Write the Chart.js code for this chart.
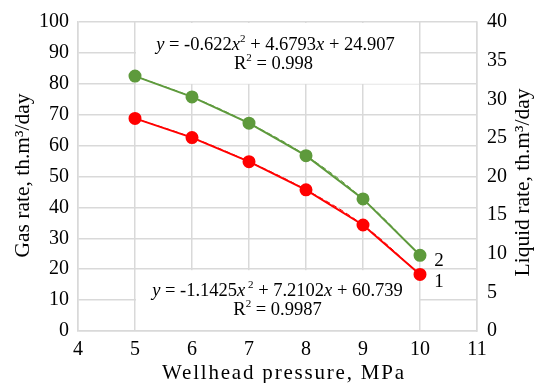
<!DOCTYPE html>
<html>
<head>
<meta charset="utf-8">
<script src="https://cdn.jsdelivr.net/npm/chart.js@4/dist/chart.umd.min.js"></script>
<style>
  html, body { margin: 0; padding: 0; background: #fff; }
  #wrap { width: 536px; height: 383px; position: relative; }
</style>
</head>
<body>
<div id="wrap"><canvas id="chart"></canvas></div>
<script>
// Data
const pressure = [5, 6, 7, 8, 9, 10];
const gasRate = [68.8, 62.6, 54.8, 45.7, 34.3, 18.3];
const liquidRate = [33.0, 30.3, 26.9, 22.7, 17.1, 9.8];
const xTicks = [4, 5, 6, 7, 8, 9, 10, 11];
const gasTicks = [0, 10, 20, 30, 40, 50, 60, 70, 80, 90, 100];
const liquidTicks = [0, 5, 10, 15, 20, 25, 30, 35, 40];

const RED = '#ff0000';
const GREEN = '#5e9a3c';
const GRID = '#d9d9d9';
const FONT = 'Liberation Serif, DejaVu Serif, serif';

// Draw text made of plain / italic / superscript parts, centred on cx
function drawRich(ctx, parts, cx, cy, size) {
    const fontFor = p => `${p.i ? 'italic ' : ''}${p.sup ? Math.round(size * 0.6) : size}px ${FONT}`;
    let total = 0;
    parts.forEach(p => { ctx.font = fontFor(p); total += ctx.measureText(p.t).width; });
    let x = cx - total / 2;
    ctx.textBaseline = 'middle';
    ctx.textAlign = 'left';
    parts.forEach(p => {
        ctx.font = fontFor(p);
        ctx.fillText(p.t, x, p.sup ? cy - size * 0.3 : cy);
        x += ctx.measureText(p.t).width;
    });
}

const annotations = {
    id: 'annotations',
    beforeDatasetsDraw(chart) {
        const { ctx, scales } = chart;
        const x = scales.x, y = scales.y;
        ctx.save();
        ctx.fillStyle = '#fff';
        // label boxes hide the grid behind the equations
        ctx.fillRect(x.getPixelForValue(5) + 1, y.getPixelForValue(100) + 1,
            x.getPixelForValue(10) - x.getPixelForValue(5) - 2, y.getPixelForValue(80) - y.getPixelForValue(100) - 1);
        ctx.fillRect(x.getPixelForValue(5) + 1, y.getPixelForValue(20) + 1,
            x.getPixelForValue(10) - x.getPixelForValue(5) - 2, y.getPixelForValue(0) - y.getPixelForValue(20) - 2);
        ctx.restore();
    },
    afterDatasetsDraw(chart) {
        const { ctx, scales, chartArea } = chart;
        const x = scales.x;
        const midY = (chartArea.top + chartArea.bottom) / 2;
        ctx.save();
        ctx.fillStyle = '#000';
        const cx = x.getPixelForValue(7.5);
        drawRich(ctx, [{ t: 'y', i: true }, { t: ' = -0.622' }, { t: 'x', i: true }, { t: '2', sup: true },
            { t: ' + 4.6793' }, { t: 'x', i: true }, { t: ' + 24.907' }], cx - 2, 45, 18.5);
        drawRich(ctx, [{ t: 'R' }, { t: '2', sup: true }, { t: ' = 0.998' }], cx - 4, 64, 18.5);
        drawRich(ctx, [{ t: 'y', i: true }, { t: ' = -1.1425' }, { t: 'x', i: true }, { t: ' 2', sup: true },
            { t: ' + 7.2102' }, { t: 'x', i: true }, { t: ' + 60.739' }], cx, 291, 18.5);
        drawRich(ctx, [{ t: 'R' }, { t: '2', sup: true }, { t: ' = 0.9987' }], cx, 310, 18.5);

        // curve numbers
        ctx.font = `19px ${FONT}`;
        ctx.textAlign = 'center';
        ctx.textBaseline = 'middle';
        ctx.fillText('2', 439, 261);
        ctx.fillText('1', 439, 282);

        // axis titles
        ctx.font = `21px ${FONT}`;
        ctx.letterSpacing = '1.8px';
        ctx.fillText('Wellhead pressure, MPa', 284, 373);
        ctx.letterSpacing = '0px';
        ctx.font = `21.5px ${FONT}`;
        ctx.translate(23, midY - 1);
        ctx.rotate(-Math.PI / 2);
        ctx.fillText('Gas rate, th.m\u00B3/day', 0, 0);
        ctx.restore();
        ctx.save();
        ctx.font = `21.5px ${FONT}`;
        ctx.fillStyle = '#000';
        ctx.textAlign = 'center';
        ctx.textBaseline = 'middle';
        ctx.translate(523, midY + 6);
        ctx.rotate(-Math.PI / 2);
        ctx.fillText('Liquid rate, th.m\u00B3/day', 0, 0);
        ctx.restore();
    }
};

const tickFont = { family: FONT, size: 20 };

new Chart(document.getElementById('chart'), {
    type: 'line',
    data: {
        datasets: [
            {
                label: 'Gas rate',
                data: pressure.map((p, i) => ({ x: p, y: gasRate[i] })),
                yAxisID: 'y',
                borderColor: RED,
                backgroundColor: RED,
                borderWidth: 2,
                pointRadius: 5.5,
                pointHoverRadius: 5.5,
                tension: 0
            },
            {
                label: 'Gas trend',
                data: pressure.map((p, i) => ({ x: p, y: gasRate[i] })),
                yAxisID: 'y',
                borderColor: RED,
                borderWidth: 1,
                borderDash: [5, 3],
                pointRadius: 0,
                tension: 0.4
            },
            {
                label: 'Liquid rate',
                data: pressure.map((p, i) => ({ x: p, y: liquidRate[i] })),
                yAxisID: 'y1',
                borderColor: GREEN,
                backgroundColor: GREEN,
                borderWidth: 2,
                pointRadius: 5.5,
                pointHoverRadius: 5.5,
                tension: 0
            },
            {
                label: 'Liquid trend',
                data: pressure.map((p, i) => ({ x: p, y: liquidRate[i] })),
                yAxisID: 'y1',
                borderColor: GREEN,
                borderWidth: 1,
                borderDash: [5, 3],
                pointRadius: 0,
                tension: 0.4
            }
        ]
    },
    options: {
        responsive: true,
        maintainAspectRatio: false,
        animation: false,
        layout: { padding: { top: 22, left: 0, right: 0, bottom: 0 } },
        plugins: { legend: { display: false }, tooltip: { enabled: false } },
        scales: {
            x: {
                type: 'linear',
                min: 4, max: 11,
                afterBuildTicks: s => { s.ticks = xTicks.map(v => ({ value: v })); },
                afterFit: s => { s.height = 52; },
                grid: { color: GRID, lineWidth: 1.5, drawTicks: false },
                border: { color: GRID, width: 1.5 },
                ticks: { font: tickFont, color: '#000', padding: 7, maxRotation: 0, autoSkip: false }
            },
            y: {
                position: 'left',
                min: 0, max: 100,
                afterBuildTicks: s => { s.ticks = gasTicks.map(v => ({ value: v })); },
                afterFit: s => { s.width = 78; },
                grid: { color: GRID, lineWidth: 1.5, drawTicks: false },
                border: { color: GRID, width: 1.5 },
                ticks: { font: tickFont, color: '#000', padding: 9, autoSkip: false }
            },
            y1: {
                position: 'right',
                min: 0, max: 40,
                afterBuildTicks: s => { s.ticks = liquidTicks.map(v => ({ value: v })); },
                afterFit: s => { s.width = 59; },
                grid: { display: false, drawTicks: false },
                border: { color: GRID, width: 1.5 },
                ticks: { font: tickFont, color: '#000', padding: 10, autoSkip: false }
            }
        }
    },
    plugins: [annotations]
});
</script>
</body>
</html>
